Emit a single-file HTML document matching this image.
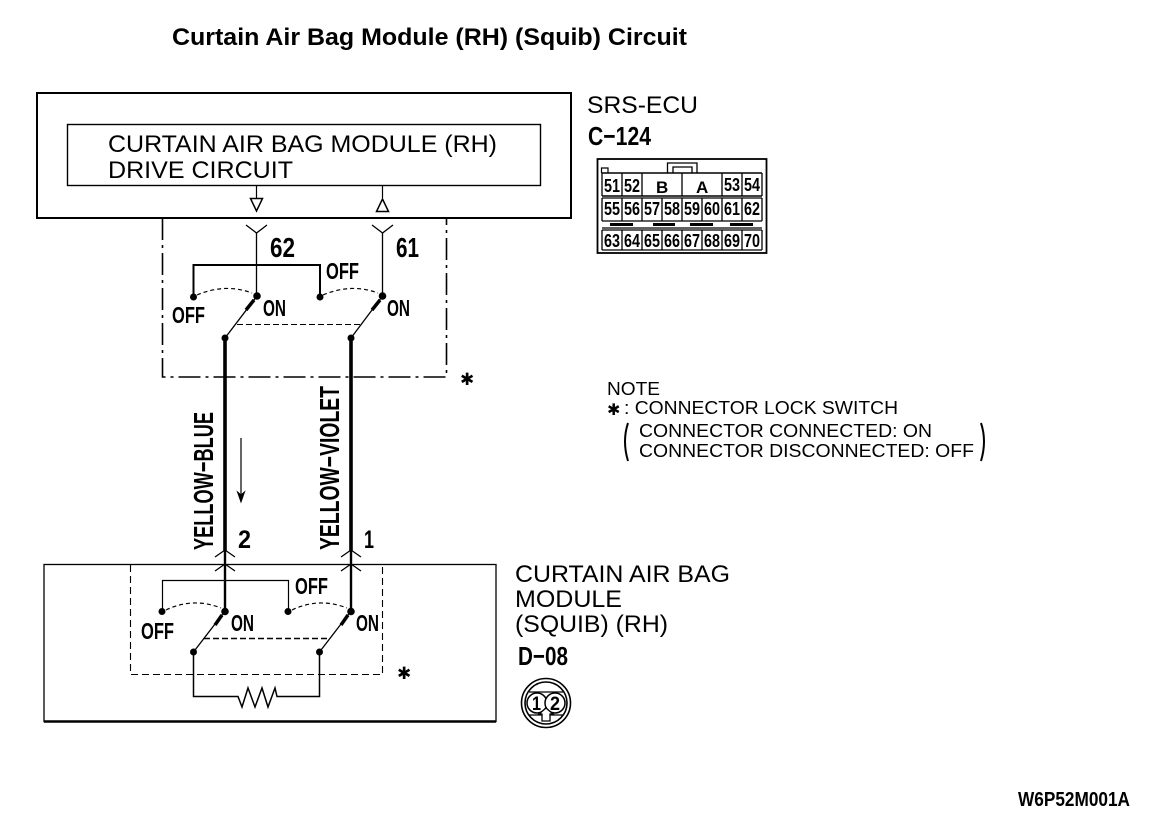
<!DOCTYPE html>
<html><head><meta charset="utf-8">
<style>
html,body{margin:0;padding:0;background:#fff}
svg{display:block}
text{font-family:"Liberation Sans",sans-serif;fill:#000}
.b{font-weight:bold}
.c{font-weight:bold;font-size:18px}
.s{font-size:24px}
.n{font-size:18px}
.st{font-family:"DejaVu Sans",sans-serif}
</style></head>
<body>
<svg xmlns="http://www.w3.org/2000/svg" width="1152" height="832" viewBox="0 0 1152 832">
<rect width="1152" height="832" fill="#fff"/>
<text class="b" x="172" y="45" font-size="24" textLength="515" lengthAdjust="spacingAndGlyphs">Curtain Air Bag Module (RH) (Squib) Circuit</text>

<!-- ECU box -->
<rect x="37" y="93" width="534" height="125" fill="none" stroke="#000" stroke-width="2"/>
<rect x="67.500" y="124.500" width="473" height="61" fill="none" stroke="#000" stroke-width="1.400"/>
<text class="s" x="108" y="152" textLength="389" lengthAdjust="spacingAndGlyphs">CURTAIN AIR BAG MODULE (RH)</text>
<text class="s" x="108" y="178" textLength="185" lengthAdjust="spacingAndGlyphs">DRIVE CIRCUIT</text>
<path d="M256.500 186V198M382.500 186V198" stroke="#000" stroke-width="1.200" fill="none"/>
<path d="M250.500 198.500H262.500L256.500 211Z M376.500 211.500H388.500L382.500 199Z" fill="none" stroke="#000" stroke-width="1.500"/>

<!-- top dash-dot -->
<path d="M162.500 218V377H446.500V218" fill="none" stroke="#000" stroke-width="1.600" stroke-dasharray="22 5 3 5"/>
<path d="M246 225L256.500 233L267 225M372 225L382.500 233L393 225" fill="none" stroke="#000" stroke-width="1.300"/>
<path d="M256.500 233V296M382.500 233V296" stroke="#000" stroke-width="1.300" fill="none"/>
<text class="b" x="270" y="257" font-size="28" textLength="25" lengthAdjust="spacingAndGlyphs">62</text>
<text class="b" x="396" y="257" font-size="28" textLength="23" lengthAdjust="spacingAndGlyphs">61</text>
<path d="M193.500 297V265H320V297" fill="none" stroke="#000" stroke-width="2"/>
<path d="M197 295Q225 283 252 293M323 295Q351 283 378 293" fill="none" stroke="#000" stroke-width="1.200" stroke-dasharray="4 3"/>
<circle cx="193.500" cy="297" r="3.500"/><circle cx="320" cy="297" r="3.500"/>
<circle cx="257" cy="296" r="3.800"/><circle cx="382.500" cy="296" r="3.800"/>
<path d="M225 338L257 296M351 338L382.500 296" stroke="#000" stroke-width="1.300" fill="none"/>
<path d="M246 310L254 300M372 310L380 300" stroke="#000" stroke-width="3.500" fill="none"/>
<path d="M237 324.500H361" stroke="#000" stroke-width="1.100" stroke-dasharray="6 3" fill="none"/>
<circle cx="225" cy="338" r="3.500"/><circle cx="351" cy="338" r="3.500"/>
<text class="b" x="172" y="323" font-size="23" textLength="33" lengthAdjust="spacingAndGlyphs">OFF</text>
<text class="b" x="326" y="279" font-size="23" textLength="33" lengthAdjust="spacingAndGlyphs">OFF</text>
<text class="b" x="263" y="316" font-size="23" textLength="23" lengthAdjust="spacingAndGlyphs">ON</text>
<text class="b" x="387" y="316" font-size="23" textLength="23" lengthAdjust="spacingAndGlyphs">ON</text>
<text class="st" x="460" y="385" font-size="17">✱</text>

<!-- thick wires -->
<path d="M225 338V551M351 338V551" stroke="#000" stroke-width="3.600" fill="none"/>
<text class="b" transform="translate(213 550) rotate(-90)" x="0" y="0" font-size="28" textLength="138" lengthAdjust="spacingAndGlyphs">YELLOW−BLUE</text>
<text class="b" transform="translate(339 550) rotate(-90)" x="0" y="0" font-size="28" textLength="164" lengthAdjust="spacingAndGlyphs">YELLOW−VIOLET</text>
<path d="M241 438V500" stroke="#000" stroke-width="1.200"/>
<path d="M237.500 492L241 502L244.500 492L241 495Z" fill="#000" stroke="#000"/>
<text class="b" x="238" y="548" font-size="25" textLength="13" lengthAdjust="spacingAndGlyphs">2</text>
<text class="b" x="364" y="548" font-size="25" textLength="10" lengthAdjust="spacingAndGlyphs">1</text>
<path d="M215 557L225 550L235 557M215 571L225 564L235 571M341 557L351 550L361 557M341 571L351 564L361 571" fill="none" stroke="#000" stroke-width="1.300"/>

<!-- bottom box -->
<rect x="44" y="564.500" width="452" height="157" fill="none" stroke="#000" stroke-width="1.300"/>
<path d="M44 721.500H496" stroke="#000" stroke-width="2.400"/>
<path d="M130.500 565V674.500H382.500V565" fill="none" stroke="#000" stroke-width="1.100" stroke-dasharray="7 4"/>
<path d="M162.500 611V580.500H288.500V611" fill="none" stroke="#000" stroke-width="1.200"/>
<path d="M225 551V611M351 551V611" stroke="#000" stroke-width="2.400" fill="none"/>
<path d="M166 610Q193 597 221 608M292 610Q319 597 347 608" fill="none" stroke="#000" stroke-width="1.200" stroke-dasharray="4 3"/>
<circle cx="162" cy="611.500" r="3.500"/><circle cx="288" cy="611.500" r="3.500"/>
<circle cx="225" cy="611.500" r="3.800"/><circle cx="351" cy="611.500" r="3.800"/>
<path d="M193.500 652L225 611M319.500 652L351 611" stroke="#000" stroke-width="1.300" fill="none"/>
<path d="M215 625L222 615M341 625L348 615" stroke="#000" stroke-width="3.500" fill="none"/>
<path d="M204 638.500H330" stroke="#000" stroke-width="1.600" stroke-dasharray="6 3" fill="none"/>
<circle cx="193.500" cy="652" r="3.500"/><circle cx="319.500" cy="652" r="3.500"/>
<path d="M193.500 652V696.500H238L242 707L248 688L255 707L262 688L268 707L275 688L277 696.500H319.500V652" fill="none" stroke="#000" stroke-width="1.500"/>
<text class="b" x="141" y="639" font-size="23" textLength="33" lengthAdjust="spacingAndGlyphs">OFF</text>
<text class="b" x="295" y="594" font-size="23" textLength="33" lengthAdjust="spacingAndGlyphs">OFF</text>
<text class="b" x="231" y="631" font-size="23" textLength="23" lengthAdjust="spacingAndGlyphs">ON</text>
<text class="b" x="356" y="631" font-size="23" textLength="23" lengthAdjust="spacingAndGlyphs">ON</text>
<text class="st" x="397" y="679" font-size="17">✱</text>

<!-- right labels -->
<text class="s" x="587" y="113" textLength="111" lengthAdjust="spacingAndGlyphs">SRS-ECU</text>
<text class="b" x="588" y="145" font-size="26" textLength="63" lengthAdjust="spacingAndGlyphs">C−124</text>

<!-- connector -->
<g fill="none" stroke="#000">
<rect x="597.500" y="159" width="169" height="94" stroke-width="1.800"/>
<path d="M601.500 173V168H608V173" stroke-width="1.200"/>
<path d="M667.500 173V163H697V173M673 173V167H692V173" stroke-width="1.300"/>
<path d="M602 173H762M602 196H762" stroke-width="1.500"/>
<path d="M602 198H762M602 221H762M602 228H762M602 230H762M602 250H762" stroke-width="1.300"/>
<path d="M602 173V196M622 173V196M642 173V196M682 173V196M722 173V196M742 173V196M762 173V196" stroke-width="1.300"/>
<path d="M602 198V221M622 198V221M642 198V221M662 198V221M682 198V221M702 198V221M722 198V221M742 198V221M762 198V221" stroke-width="1.300"/>
<path d="M602 230V250M622 230V250M642 230V250M662 230V250M682 230V250M702 230V250M722 230V250M742 230V250M762 230V250" stroke-width="1.300"/>
<path d="M610 224.500H633M653 224.500H675M690 224.500H713M730 224.500H753" stroke-width="3"/>
</g>
<g>
<text class="c" x="604" y="192" textLength="16" lengthAdjust="spacingAndGlyphs">51</text>
<text class="c" x="624" y="192" textLength="16" lengthAdjust="spacingAndGlyphs">52</text>
<text class="b" x="656" y="193" font-size="17">B</text>
<text class="b" x="696" y="193" font-size="17">A</text>
<text class="c" x="724" y="191" textLength="16" lengthAdjust="spacingAndGlyphs">53</text>
<text class="c" x="744" y="191" textLength="16" lengthAdjust="spacingAndGlyphs">54</text>
<text class="c" x="604" y="215" textLength="16" lengthAdjust="spacingAndGlyphs">55</text>
<text class="c" x="624" y="215" textLength="16" lengthAdjust="spacingAndGlyphs">56</text>
<text class="c" x="644" y="215" textLength="16" lengthAdjust="spacingAndGlyphs">57</text>
<text class="c" x="664" y="215" textLength="16" lengthAdjust="spacingAndGlyphs">58</text>
<text class="c" x="684" y="215" textLength="16" lengthAdjust="spacingAndGlyphs">59</text>
<text class="c" x="704" y="215" textLength="16" lengthAdjust="spacingAndGlyphs">60</text>
<text class="c" x="724" y="215" textLength="16" lengthAdjust="spacingAndGlyphs">61</text>
<text class="c" x="744" y="215" textLength="16" lengthAdjust="spacingAndGlyphs">62</text>
<text class="c" x="604" y="247" textLength="16" lengthAdjust="spacingAndGlyphs">63</text>
<text class="c" x="624" y="247" textLength="16" lengthAdjust="spacingAndGlyphs">64</text>
<text class="c" x="644" y="247" textLength="16" lengthAdjust="spacingAndGlyphs">65</text>
<text class="c" x="664" y="247" textLength="16" lengthAdjust="spacingAndGlyphs">66</text>
<text class="c" x="684" y="247" textLength="16" lengthAdjust="spacingAndGlyphs">67</text>
<text class="c" x="704" y="247" textLength="16" lengthAdjust="spacingAndGlyphs">68</text>
<text class="c" x="724" y="247" textLength="16" lengthAdjust="spacingAndGlyphs">69</text>
<text class="c" x="744" y="247" textLength="16" lengthAdjust="spacingAndGlyphs">70</text>
</g>

<!-- note -->
<text class="n" x="607" y="395" textLength="53" lengthAdjust="spacingAndGlyphs">NOTE</text>
<text class="st" x="607" y="415" font-size="16">✱</text>
<text class="n" x="624" y="414" textLength="274" lengthAdjust="spacingAndGlyphs">: CONNECTOR LOCK SWITCH</text>
<text class="n" x="639" y="437" textLength="293" lengthAdjust="spacingAndGlyphs">CONNECTOR CONNECTED: ON</text>
<text class="n" x="639" y="457" textLength="335" lengthAdjust="spacingAndGlyphs">CONNECTOR DISCONNECTED: OFF</text>
<path d="M628 423Q622 441 628 461M981 423Q987 441 981 461" fill="none" stroke="#000" stroke-width="2"/>

<!-- module labels -->
<text class="s" x="515" y="582" textLength="215" lengthAdjust="spacingAndGlyphs">CURTAIN AIR BAG</text>
<text class="s" x="515" y="607" textLength="107" lengthAdjust="spacingAndGlyphs">MODULE</text>
<text class="s" x="515" y="632" textLength="153" lengthAdjust="spacingAndGlyphs">(SQUIB) (RH)</text>
<text class="b" x="518" y="665" font-size="26" textLength="50" lengthAdjust="spacingAndGlyphs">D−08</text>

<circle cx="546" cy="703" r="24.500" fill="none" stroke="#000" stroke-width="1.600"/>
<circle cx="546" cy="703" r="21" fill="none" stroke="#000" stroke-width="1.600"/>
<path d="M529 692H563M529 715H563" fill="none" stroke="#000" stroke-width="1.300"/>
<circle cx="537" cy="703" r="10" fill="#fff" stroke="#000" stroke-width="1.500"/>
<circle cx="555" cy="703" r="10" fill="#fff" stroke="#000" stroke-width="1.500"/>
<path d="M542 721V714H539L546 708L553 714H550V721Z" fill="#fff" stroke="#000" stroke-width="1.300"/>
<text class="b" x="532" y="710" font-size="19" textLength="9" lengthAdjust="spacingAndGlyphs">1</text>
<text class="b" x="550" y="710" font-size="19" textLength="10" lengthAdjust="spacingAndGlyphs">2</text>

<text class="b" x="1018" y="806" font-size="20" textLength="112" lengthAdjust="spacingAndGlyphs">W6P52M001A</text>
</svg>
</body></html>
